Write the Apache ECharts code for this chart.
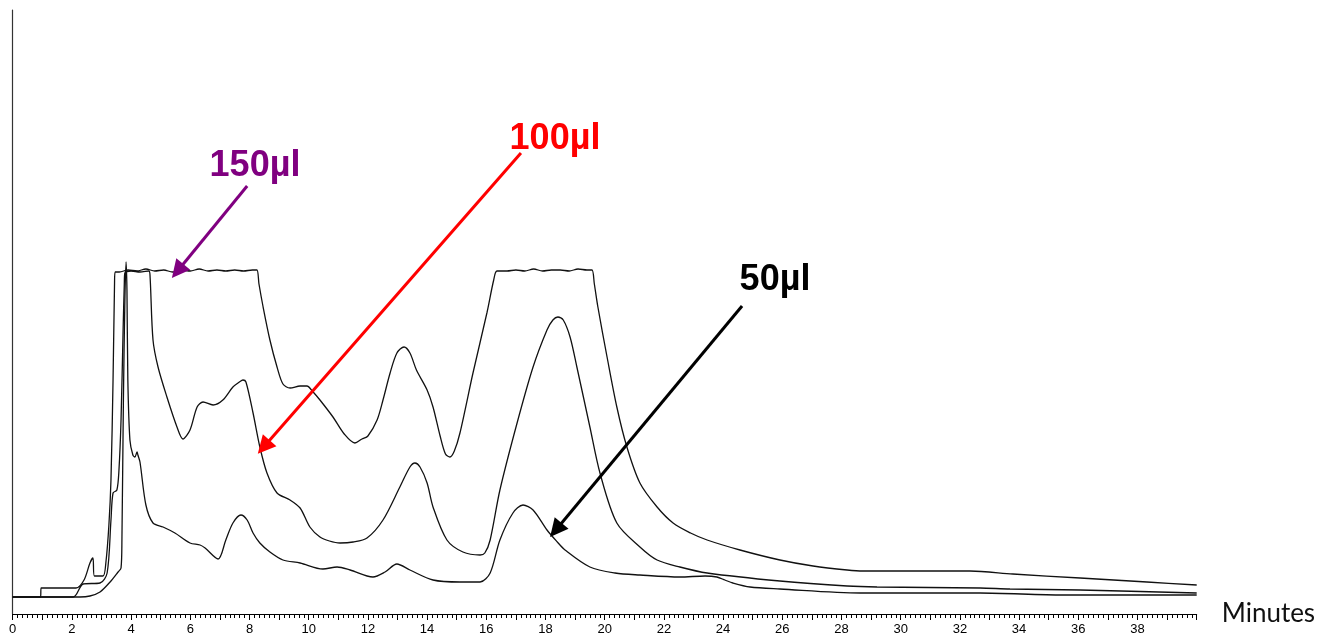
<!DOCTYPE html>
<html>
<head>
<meta charset="utf-8">
<script src="https://cdn.jsdelivr.net/npm/echarts@6/dist/echarts.min.js"></script>
<style>
  html, body { margin: 0; padding: 0; background: #fff; }
  #chart { width: 1320px; height: 637px; }
</style>
</head>
<body>
<div id="chart"></div>
<script>
// Chromatogram traces: [retention time (min), detector signal]
const trace150 = [
  [0, 17], [0.94, 17], [0.96, 26], [2.14, 26], [2.41, 34], [2.61, 51], [2.71, 56], [2.76, 38],
  [3.05, 38], [3.15, 52], [3.25, 89], [3.32, 134], [3.39, 234], [3.44, 330], [3.46, 342],
  [3.6, 342], [3.9, 344], [4.2, 343], [4.5, 345], [4.8, 343], [5.1, 344], [5.4, 342], [5.7, 344],
  [6.0, 343], [6.3, 345], [6.6, 343], [6.9, 344], [7.2, 343], [7.5, 344], [7.8, 343], [8.1, 344], [8.25, 344],
  [8.32, 330], [8.46, 307], [8.69, 274], [8.93, 247], [9.13, 230], [9.37, 226], [9.71, 228], [9.94, 228],
  [10.15, 222], [10.38, 214], [10.82, 197], [11.2, 180], [11.56, 171], [11.8, 175], [12.0, 178],
  [12.31, 194], [12.51, 214], [12.75, 241], [12.98, 261], [13.22, 267], [13.42, 261], [13.64, 244],
  [14.0, 224], [14.2, 207], [14.44, 178], [14.62, 160], [14.77, 157], [14.92, 163], [15.11, 181],
  [15.55, 241], [16.02, 301], [16.25, 334], [16.36, 343],
  [16.7, 343], [17.0, 344], [17.3, 343], [17.6, 345], [17.9, 343], [18.2, 344], [18.5, 344],
  [18.8, 343], [19.1, 345], [19.4, 344], [19.57, 344],
  [19.65, 330], [19.77, 307], [20.08, 257], [20.41, 207], [20.75, 167], [21.19, 131], [21.77, 107],
  [22.31, 91], [22.9, 81], [23.46, 74], [24.57, 64], [25.92, 54], [27.04, 48], [28.19, 44],
  [28.73, 43], [32.34, 43], [33.79, 40], [36.06, 36], [38.32, 32], [40, 29]
];

const trace100 = [
  [0, 17], [2.04, 17], [2.38, 30], [2.95, 31], [3.19, 41], [3.32, 94], [3.39, 121], [3.52, 124],
  [3.59, 144], [3.66, 194], [3.73, 284], [3.77, 330], [3.79, 341], [4.0, 343], [4.3, 342], [4.6, 343],
  [4.64, 338], [4.74, 274], [4.91, 247], [5.21, 217], [5.55, 187], [5.75, 175], [5.99, 184],
  [6.23, 207], [6.43, 212], [6.77, 209], [7.1, 214], [7.44, 227], [7.66, 232], [7.78, 234],
  [7.88, 232], [8.12, 201], [8.35, 167], [8.59, 141], [8.93, 121], [9.37, 114], [9.71, 106],
  [10.04, 87], [10.38, 77], [10.7, 73], [11.06, 71], [11.5, 72], [11.97, 76], [12.51, 94],
  [13.08, 127], [13.42, 147], [13.59, 151], [13.76, 147], [14.0, 131], [14.2, 107], [14.67, 74],
  [15.21, 62], [15.79, 59], [15.95, 61], [16.13, 74], [16.46, 124], [17.04, 191], [17.58, 247],
  [18.05, 284], [18.25, 294], [18.42, 297], [18.6, 294], [18.83, 277], [19.06, 247], [19.5, 187],
  [19.84, 141], [20.41, 91], [21.19, 67], [21.77, 54], [22.54, 47], [23.46, 41], [25.92, 33],
  [28.19, 28], [29.2, 27], [32.68, 26], [33.69, 25], [36.06, 24], [40, 21]
];

const trace50 = [
  [0, 17], [2.27, 17], [2.61, 18], [2.95, 22], [3.29, 32], [3.56, 42], [3.66, 46], [3.69, 74],
  [3.74, 214], [3.79, 314], [3.83, 352], [3.86, 324], [3.89, 234], [3.96, 174], [4.06, 159],
  [4.13, 157], [4.2, 162], [4.23, 159], [4.3, 152], [4.5, 109], [4.74, 91], [5.08, 87], [5.48, 81],
  [5.99, 71], [6.33, 69], [6.5, 66], [6.94, 55], [7.2, 74], [7.44, 91], [7.71, 99], [7.92, 94],
  [8.12, 81], [8.35, 71], [8.69, 62], [9.13, 54], [9.71, 51], [10.48, 45], [10.96, 47], [11.4, 44],
  [12.17, 37], [12.58, 42], [12.98, 50], [13.42, 44], [14.2, 34], [15.11, 32], [15.79, 32],
  [16.13, 41], [16.46, 74], [16.9, 101], [17.24, 109], [17.58, 104], [18.05, 84], [18.4, 72],
  [18.66, 64], [19.5, 47], [20.35, 41], [21.19, 39], [22.54, 37], [23.39, 38], [23.79, 37],
  [24.06, 34], [24.33, 31], [24.91, 27], [25.92, 25], [28.63, 21], [32.68, 21], [35.48, 19], [40, 19]
];

// Injection volume labels, each with its arrow [from, to] in data space
const volumeLabels = ['150µl', '100µl', '50µl'];
const arrowFrom = [[7.92, 428], [17.17, 461], [24.64, 308]];
const arrowTo = [[5.57, 343], [8.48, 167], [18.35, 84]];

const xTickStep = 1;      // minutes between major ticks
const xLabelEvery = 2;    // label every other minute

const chart = echarts.init(document.getElementById('chart'), null, { renderer: 'canvas' });

const labelColors = ['#800080', '#ff0000', '#000000'];
const labelPos = [[255, 166], [555, 139], [775, 280]];

function arrow(i) {
  return {
    silent: true,
    animation: false,
    symbol: ['none', 'triangle'],
    symbolSize: 18,
    label: { show: false },
    lineStyle: { color: labelColors[i], width: 3, type: 'solid' },
    emphasis: { disabled: true },
    data: [[{ coord: arrowFrom[i] }, { coord: arrowTo[i] }]]
  };
}

function trace(name, data, i) {
  return {
    name: name,
    type: 'line',
    data: data,
    showSymbol: false,
    smooth: 0.3,
    lineStyle: { color: '#111', width: 1.3 },
    emphasis: { disabled: true },
    z: 2,
    markLine: arrow(i)
  };
}

chart.setOption({
  animation: false,
  backgroundColor: '#ffffff',
  grid: { left: 12.7, right: 123.3, top: 10, bottom: 23 },
  xAxis: {
    type: 'value',
    min: 0,
    max: 40,
    interval: xTickStep,
    name: 'Minutes',
    nameLocation: 'end',
    nameGap: 25,
    nameTextStyle: {
      fontFamily: 'Lato', fontSize: 26, color: '#111',
      verticalAlign: 'middle', padding: [0, 0, 38, 0]
    },
    axisLine: { show: true, lineStyle: { color: '#000', width: 1 } },
    axisTick: { show: true, length: 6, lineStyle: { color: '#000', width: 1 } },
    minorTick: { show: true, splitNumber: 6, length: 4, lineStyle: { color: '#000', width: 1 } },
    splitLine: { show: false },
    axisLabel: {
      margin: 9,
      fontFamily: 'Liberation Sans',
      fontSize: 13,
      color: '#000',
      formatter: v => (v % xLabelEvery === 0 && v < 40) ? String(v) : ''
    }
  },
  yAxis: {
    type: 'value',
    min: 0,
    max: 604,
    axisLine: { show: true, lineStyle: { color: '#333', width: 1.2 } },
    axisTick: { show: false },
    axisLabel: { show: false },
    splitLine: { show: false }
  },
  graphic: volumeLabels.map((t, i) => ({
    type: 'text',
    x: labelPos[i][0],
    y: labelPos[i][1],
    silent: true,
    style: {
      text: t,
      fill: labelColors[i],
      font: 'bold 36px "Liberation Sans", Arial, sans-serif',
      align: 'center',
      verticalAlign: 'middle'
    }
  })),
  series: [
    trace(volumeLabels[0], trace150, 0),
    trace(volumeLabels[1], trace100, 1),
    trace(volumeLabels[2], trace50, 2)
  ]
});
</script>
</body>
</html>
